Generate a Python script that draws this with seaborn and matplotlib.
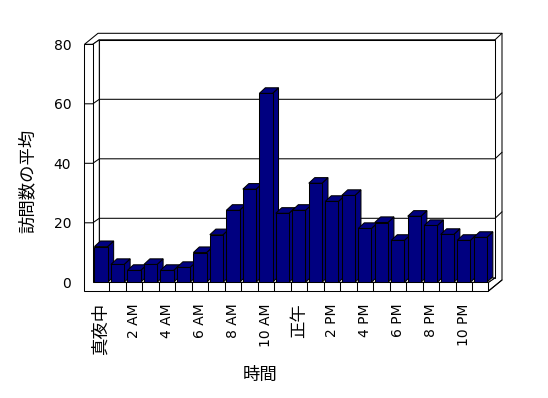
import numpy as np
import pandas as pd
import matplotlib
matplotlib.use("Agg")
import matplotlib.pyplot as plt
import seaborn as sns
from matplotlib.patches import Polygon
from matplotlib.lines import Line2D
from matplotlib.transforms import IdentityTransform

# ---------------- data ----------------
hours = ["真夜中", "1 AM", "2 AM", "3 AM", "4 AM", "5 AM", "6 AM", "7 AM",
         "8 AM", "9 AM", "10 AM", "11 AM", "正午", "1 PM", "2 PM", "3 PM",
         "4 PM", "5 PM", "6 PM", "7 PM", "8 PM", "9 PM", "10 PM", "11 PM"]
visits = [12.0, 6.0, 4.0, 6.0, 4.0, 5.0, 10.0, 16.0, 24.2, 31.3, 63.5, 23.2,
          24.2, 33.3, 27.2, 29.2, 18.1, 20.1, 14.1, 22.2, 19.1, 16.1, 14.1, 15.1]
y_ticks = [0, 20, 40, 60, 80]
grid_values = [20, 40, 60]
x_title = "時間"
y_title = "訪問数の平均"

# ---------------- style ----------------
sns.set_theme(style="white")
plt.rcParams['font.family'] = ['DejaVu Sans', 'Noto Sans CJK JP']

DPI = 100
fig = plt.figure(figsize=(5.48, 3.98), dpi=DPI, facecolor='white')
ax = fig.add_axes([0.16934, 0.29070, 0.72208, 0.59799])

df = pd.DataFrame({"hour": hours, "visits": visits})
sns.barplot(data=df, x="hour", y="visits", order=hours, color="#000080",
            saturation=1, width=0.8, errorbar=None, edgecolor="black",
            linewidth=0.75, ax=ax)

ax.set_xlim(-0.5, len(hours) - 0.5)
ax.set_ylim(y_ticks[0], y_ticks[-1])
for s in ax.spines.values():
    s.set_visible(False)
ax.patch.set_visible(False)
ax.grid(False)

LW = 0.75
NAVY = "#000080"
IDT = IdentityTransform()


def P(x, y, dx=0.0, dy=0.0):
    X, Y = ax.transData.transform((x, y))
    return (X + dx, Y - dy)


def poly(pts, z, fc='white'):
    ax.add_patch(Polygon(pts, closed=True, facecolor=fc, edgecolor='black',
                         lw=LW, transform=IDT, clip_on=False, zorder=z,
                         joinstyle='miter'))


def line(pts, z=1.5):
    xs = [p[0] for p in pts]
    ys = [p[1] for p in pts]
    ax.add_line(Line2D(xs, ys, color='black', lw=LW, transform=IDT,
                       clip_on=False, zorder=z))


# geometry offsets (pixels, image convention: +dy = down)
D1 = (6.5, -4.5)      # back wall inner plane
D2 = (13.5, -11.0)    # outer back edge
WALL = 8.3            # left wall thickness
FLOOR = 8.7           # floor thickness
BD = (6.0, -5.6)      # bar depth

X0, X1 = -0.5, len(hours) - 0.5
Y0, Yt = y_ticks[0], y_ticks[-1]

# outer silhouette (top and right slabs)
poly([P(X0, Yt, -WALL, 0), P(X0, Yt, -WALL + D2[0], D2[1]),
      P(X1, Yt, D2[0], D2[1]), P(X1, Y0, D2[0], FLOOR + D2[1]),
      P(X1, Y0, 0, FLOOR), P(X1, Y0), P(X1, Y0, *D1), P(X1, Yt, *D1),
      P(X0, Yt, *D1), P(X0, Yt)], 0.5)
# back wall inner face
poly([P(X0, Yt, *D1), P(X1, Yt, *D1), P(X1, Y0, *D1), P(X0, Y0, *D1)], 0.6)
# left wall inner face
poly([P(X0, Yt), P(X0, Yt, *D1), P(X0, Y0, *D1), P(X0, Y0)], 0.7)
# floor top
poly([P(X0, Y0), P(X1, Y0), P(X1, Y0, *D1), P(X0, Y0, *D1)], 0.7)
# left wall front + floor front
poly([P(X0, Yt, -WALL, 0), P(X0, Yt), P(X0, Y0), P(X1, Y0),
      P(X1, Y0, 0, FLOOR), P(X0, Y0, -WALL, FLOOR)], 0.8)
# corner diagonals
line([P(X1, Yt, *D1), P(X1, Yt, *D2)], 1.0)
line([P(X1, Y0, 0, FLOOR), P(X1, Y0, D2[0], FLOOR + D2[1])], 1.0)

# gridlines wrapping walls
for g in grid_values:
    line([P(X0, g, -WALL, 0), P(X0, g), P(X0, g, *D1), P(X1, g, *D1),
          P(X1, g, *D2)], 1.2)

# floor front cell dividers
for k in range(1, len(hours)):
    line([P(X0 + k, Y0), P(X0 + k, Y0, 0, FLOOR)], 1.3)

# 3D bars: side and top faces
bars = [p for p in ax.patches if p.get_zorder() < 0.5 or True][:0]
rects = [p for p in ax.patches if isinstance(p, matplotlib.patches.Rectangle)
         and p.get_width() < 1.0]
for i, r in enumerate(rects):
    x, w, h = r.get_x(), r.get_width(), r.get_height()
    zb = 3 + i * 0.01
    r.set_zorder(zb + 0.005)
    side = [P(x + w, 0), P(x + w, h), P(x + w, h, *BD), P(x + w, 0, *BD)]
    top = [P(x, h), P(x + w, h), P(x + w, h, *BD), P(x, h, *BD)]
    poly(side, zb, fc=NAVY)
    poly(top, zb + 0.001, fc=NAVY)

# ticks and labels
ax.set_yticks(y_ticks)
ax.set_yticklabels([str(v) for v in y_ticks])
ax.set_xticks(range(0, len(hours), 2))
ax.set_xticklabels(hours[::2], rotation=90)
ax.tick_params(axis='y', length=0, pad=15.5, labelsize=10, colors='black')
ax.tick_params(axis='x', length=0, pad=15, labelsize=10, colors='black')
for t in ax.get_xticklabels():
    if not t.get_text().isascii():
        t.set_fontsize(12.5)

ax.set_xlabel(x_title, fontsize=12.5, color='black', va='center')
ax.xaxis.set_label_coords(0.4235, -0.39)
ax.set_ylabel(y_title, fontsize=12.5, color='black', va='center')
ax.yaxis.set_label_coords(-0.165, 0.4256)

fig.savefig("out.png", dpi=DPI, facecolor='white')
